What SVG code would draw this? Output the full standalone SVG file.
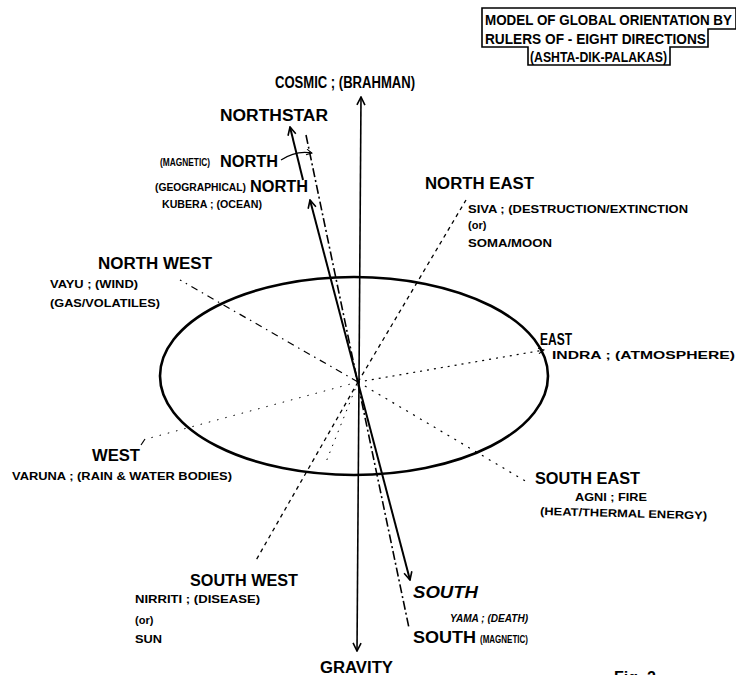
<svg xmlns="http://www.w3.org/2000/svg" width="736" height="675" viewBox="0 0 736 675">
<style>
text{font-family:"Liberation Sans",Arial,sans-serif;font-weight:bold;fill:#000}
.b{font-size:16px}
.s{font-size:11px}
.t{font-size:16px}
.h{font-size:15px}
.i{font-style:italic}
.ln{fill:none;stroke:#000}
</style>
<defs>
<marker id="ah" viewBox="0 0 10 10" refX="9" refY="5" markerWidth="10" markerHeight="10" markerUnits="userSpaceOnUse" orient="auto-start-reverse">
<path d="M1,1 L9,5 L1,9" fill="none" stroke="#000" stroke-width="1.6"/>
</marker>
<marker id="ahs" viewBox="0 0 10 10" refX="9" refY="5" markerWidth="7" markerHeight="7" markerUnits="userSpaceOnUse" orient="auto">
<path d="M1,1 L9,5 L1,9" fill="none" stroke="#000" stroke-width="1.4"/>
</marker>
</defs>

<g id="title">
<path class="ln" stroke-width="1.6" d="M482,8 L736,8 L736,29 L708,29 L708,47 L670,47 L670,65 L528,65 L528,47 L482,47 Z"/>
<text class="h" x="485" y="25" textLength="247" lengthAdjust="spacingAndGlyphs">MODEL OF GLOBAL ORIENTATION BY</text>
<text class="h" x="485" y="44" textLength="221" lengthAdjust="spacingAndGlyphs">RULERS  OF - EIGHT DIRECTIONS</text>
<text class="h" x="530" y="62" textLength="137" lengthAdjust="spacingAndGlyphs">(ASHTA-DIK-PALAKAS)</text>
</g>

<g id="ellipse-earth">
<ellipse cx="354" cy="376" rx="194" ry="99" fill="none" stroke="#000" stroke-width="2.6"/>
</g>

<g id="connectors">
<line class="ln" stroke-width="1.6" x1="359" y1="380" x2="361" y2="97" marker-end="url(#ah)"/>
<line class="ln" stroke-width="1.6" x1="359" y1="380" x2="357" y2="651" marker-end="url(#ah)"/>
<line class="ln" stroke-width="2" x1="303" y1="180" x2="290" y2="127" marker-end="url(#ah)"/>
<line class="ln" stroke-width="2" x1="310" y1="200" x2="410" y2="580" marker-start="url(#ah)" marker-end="url(#ah)"/>
<line class="ln" stroke-width="1.6" stroke-dasharray="9,3,2,3" x1="306" y1="135" x2="409" y2="628"/>
<path class="ln" stroke-width="1.2" d="M281,160 Q296,150 312,153" marker-end="url(#ahs)"/>
<line class="ln" stroke-width="1.3" stroke-dasharray="4,4" x1="358" y1="382" x2="466" y2="200"/>
<line class="ln" stroke-width="1.3" stroke-dasharray="4,4" x1="358" y1="382" x2="255" y2="562"/>
<line class="ln" stroke-width="1.2" stroke-dasharray="7,5,1.5,5" x1="358" y1="382" x2="180" y2="280"/>
<line class="ln" stroke-width="1.2" stroke-dasharray="2,6" x1="358" y1="382" x2="527" y2="482"/>
<line class="ln" stroke-width="1.2" stroke-dasharray="2,5" x1="358" y1="382" x2="544" y2="350" marker-end="url(#ahs)"/>
<line class="ln" stroke-width="1" stroke-dasharray="1.5,7" x1="358" y1="382" x2="150" y2="438"/>
<line class="ln" stroke-width="1" stroke-dasharray="1.5,6" x1="358" y1="382" x2="326" y2="462"/>
<path class="ln" stroke-width="1.2" d="M141,445 L145,439"/>
</g>

<g id="cosmic"><text class="t" x="275" y="88" textLength="140" lengthAdjust="spacingAndGlyphs">COSMIC ; (BRAHMAN)</text></g>
<g id="northstar"><text class="t" x="220" y="121" textLength="108" lengthAdjust="spacingAndGlyphs">NORTHSTAR</text></g>
<g id="magnetic-north">
<text class="s" x="160" y="166" textLength="50" lengthAdjust="spacingAndGlyphs">(MAGNETIC)</text>
<text class="t" x="220" y="167" textLength="58" lengthAdjust="spacingAndGlyphs">NORTH</text>
</g>
<g id="geographical-north">
<text class="s" x="155" y="191" textLength="91" lengthAdjust="spacingAndGlyphs">(GEOGRAPHICAL)</text>
<text class="t" x="250" y="192" textLength="58" lengthAdjust="spacingAndGlyphs">NORTH</text>
<text class="s" x="162" y="208" textLength="100" lengthAdjust="spacingAndGlyphs">KUBERA ; (OCEAN)</text>
</g>
<g id="north-east">
<text class="t" x="425" y="189" textLength="109" lengthAdjust="spacingAndGlyphs">NORTH EAST</text>
<text class="s" x="468" y="213" textLength="220" lengthAdjust="spacingAndGlyphs">SIVA ; (DESTRUCTION/EXTINCTION</text>
<text class="s" x="468" y="229">(or)</text>
<text class="s" x="468" y="247" textLength="84" lengthAdjust="spacingAndGlyphs">SOMA/MOON</text>
</g>
<g id="north-west">
<text class="t" x="98" y="269" textLength="114" lengthAdjust="spacingAndGlyphs">NORTH WEST</text>
<text class="s" x="50" y="288" textLength="88" lengthAdjust="spacingAndGlyphs">VAYU ; (WIND)</text>
<text class="s" x="50" y="307" textLength="110" lengthAdjust="spacingAndGlyphs">(GAS/VOLATILES)</text>
</g>
<g id="east">
<text class="t" x="540" y="345" textLength="32" lengthAdjust="spacingAndGlyphs">EAST</text>
<text class="s" x="552" y="359" textLength="183" lengthAdjust="spacingAndGlyphs">INDRA ; (ATMOSPHERE)</text>
</g>
<g id="west">
<text class="t" x="92" y="461" textLength="48" lengthAdjust="spacingAndGlyphs">WEST</text>
<text class="s" x="12" y="480" textLength="220" lengthAdjust="spacingAndGlyphs">VARUNA ; (RAIN &amp; WATER BODIES)</text>
</g>
<g id="south-east">
<text class="t" x="535" y="484" textLength="105" lengthAdjust="spacingAndGlyphs">SOUTH EAST</text>
<text class="s" x="575" y="501" textLength="72" lengthAdjust="spacingAndGlyphs">AGNI ; FIRE</text>
<text class="s" x="540" y="515" textLength="167" lengthAdjust="spacingAndGlyphs" transform="rotate(1.5 540 515)">(HEAT/THERMAL ENERGY)</text>
</g>
<g id="south-west">
<text class="t" x="190" y="586" textLength="108" lengthAdjust="spacingAndGlyphs">SOUTH WEST</text>
<text class="s" x="135" y="603" textLength="125" lengthAdjust="spacingAndGlyphs">NIRRITI ; (DISEASE)</text>
<text class="s" x="135" y="624">(or)</text>
<text class="s" x="135" y="643" textLength="27" lengthAdjust="spacingAndGlyphs">SUN</text>
</g>
<g id="south">
<text class="t i" x="413" y="598" textLength="65" lengthAdjust="spacingAndGlyphs">SOUTH</text>
<text class="s i" x="450" y="622" textLength="78" lengthAdjust="spacingAndGlyphs">YAMA ; (DEATH)</text>
</g>
<g id="south-magnetic">
<text class="t" x="413" y="643" textLength="63" lengthAdjust="spacingAndGlyphs">SOUTH</text>
<text class="s" x="480" y="643" textLength="48" lengthAdjust="spacingAndGlyphs">(MAGNETIC)</text>
</g>
<g id="gravity"><text class="t" x="320" y="673" textLength="73" lengthAdjust="spacingAndGlyphs">GRAVITY</text></g>
<g id="fig-label"><text class="b" x="614" y="683">Fig. 2</text></g>
</svg>
